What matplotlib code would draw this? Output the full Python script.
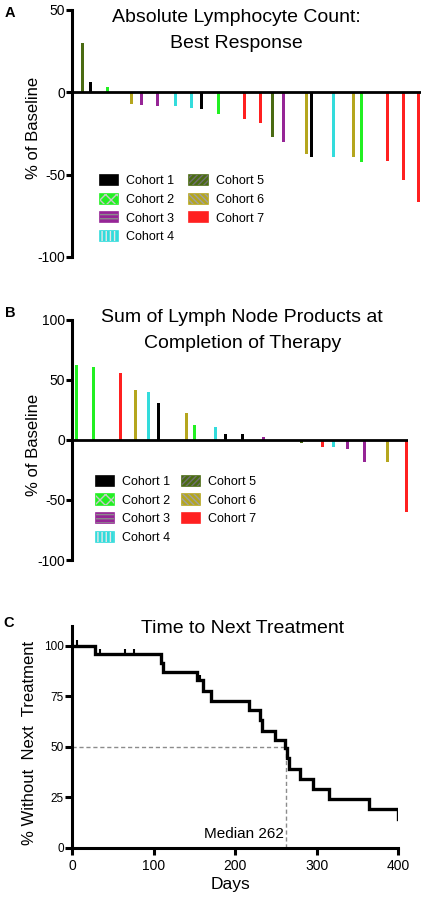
import matplotlib
matplotlib.use("Agg")
import matplotlib.pyplot as plt
from matplotlib.patches import Patch
from matplotlib.legend_handler import HandlerTuple

# ---------------- data ----------------
cohort_names = ["Cohort 1", "Cohort 2", "Cohort 3", "Cohort 4", "Cohort 5", "Cohort 6", "Cohort 7"]
cohort_colors = ["#000000", "#22f022", "#962596", "#33dcdc", "#4a6b12", "#b5a61e", "#ff2020"]
cohort_hatch = [None, "xxx", "----", "||||", "//////", "\\\\\\\\\\\\", None]
cohort_hatch_color = [None, "#c8c8c8", "#8c8c8c", "#e6e6e6", "#707070", "#a0a0a0", None]

# Panel A: ALC best response (% of baseline)
a_pos = [10, 18, 35, 59, 69, 85, 103, 119, 129, 146, 172, 188, 200, 211, 234, 239, 261, 281, 289, 315, 331, 346]
a_val = [30, 6.4, 3.4, -7.3, -7.5, -8.3, -8.3, -9.3, -10.3, -13.3, -16.2, -18.7, -27, -30, -37.3, -39.3,
         -39.3, -39, -42.3, -42, -53.4, -66.8]
a_coh = [5, 1, 2, 6, 3, 3, 4, 4, 1, 2, 7, 7, 5, 3, 6, 1, 4, 6, 2, 7, 7, 7]

# Panel B: SPD at completion of therapy (% of baseline)
b_pos = [4, 21, 48, 63, 76, 86, 114, 122, 143, 153, 170, 191, 229, 250, 261, 275, 292, 315, 334]
b_val = [62, 60.4, 55.7, 41, 39.4, 30.8, 22, 12.6, 10.6, 5.1, 5.1, 1.9, -3, -6, -6.3, -8, -18.4, -18.4, -60]
b_coh = [2, 2, 7, 6, 4, 1, 6, 2, 4, 1, 1, 3, 5, 7, 4, 3, 3, 6, 7]

# Panel C: time to next treatment (Kaplan-Meier steps)
km_t = [0, 28, 109, 111, 153, 160, 170, 217, 231, 233, 249, 261, 264, 266, 279, 296, 315, 364, 400]
km_s = [100, 95.8, 91.5, 87.1, 82.8, 77.7, 72.8, 68.2, 63.2, 57.9, 53.2, 49.2, 44.2, 38.8, 34.0, 29.1, 24.1, 19.2, 14.1]
cens_t = [6, 34, 65, 76, 157]
cens_s = [100, 95.8, 95.8, 95.8, 82.8]
median_days = 262

# ---------------- style ----------------
plt.rcParams["font.family"] = ["Liberation Sans", "DejaVu Sans"]
plt.rcParams["axes.unicode_minus"] = False
W, H = 423, 900
fig = plt.figure(figsize=(W / 100, H / 100), dpi=100)

def rect(x0, x1, ytop, ybot):
    return [x0 / W, 1 - ybot / H, (x1 - x0) / W, (ybot - ytop) / H]

def fx(x):
    return x / W

def fy(y):
    return 1 - y / H

SPW = 2.2
TITLE_FS = 14

def style_left(ax, fs):
    for s in ["top", "right", "bottom"]:
        ax.spines[s].set_visible(False)
    ax.spines["left"].set_linewidth(SPW)
    ax.tick_params(axis="y", length=4.5, width=SPW, pad=0.5, labelsize=fs)
    ax.set_xticks([])

def legend_handles():
    hs = []
    for c, h, hc in zip(cohort_colors, cohort_hatch, cohort_hatch_color):
        base = Patch(facecolor=c, edgecolor=c, linewidth=1.2)
        if h is None:
            hs.append(base)
        else:
            hs.append((base, Patch(facecolor="none", edgecolor=hc, hatch=h, linewidth=0)))
    return hs

def add_legend(x, y, colsp):
    fig.legend(legend_handles(), cohort_names, loc="upper left",
               bbox_to_anchor=(fx(x), fy(y)), bbox_transform=fig.transFigure,
               ncol=2, frameon=False, borderpad=0, borderaxespad=0,
               handlelength=1.45, handleheight=0.9, handletextpad=0.65,
               columnspacing=colsp, labelspacing=0.48, fontsize=9,
               handler_map={tuple: HandlerTuple(ndivide=1)})

# ---------------- Panel A ----------------
axA = fig.add_axes(rect(72, 421, 10, 257))
axA.bar(a_pos, a_val, width=3, color=[cohort_colors[c - 1] for c in a_coh], linewidth=0)
axA.set_xlim(0, 349)
axA.set_ylim(-100, 50)
axA.set_yticks([50, 0, -50, -100])
axA.axhline(0, color="black", lw=2.0)
style_left(axA, 10)
fig.text(fx(236.7), fy(21.7), "Absolute Lymphocyte Count:", ha="center", va="baseline", fontsize=TITLE_FS)
fig.text(fx(236.7), fy(48.3), "Best Response", ha="center", va="baseline", fontsize=TITLE_FS)
fig.text(fx(34), fy(128), "% of Baseline", rotation=90, ha="center", va="center", fontsize=12)
fig.text(fx(10), fy(13), "A", ha="center", va="center", fontsize=10.5, fontweight="bold")
add_legend(100, 175, 1.2)

# ---------------- Panel B ----------------
axB = fig.add_axes(rect(72, 408, 319.5, 560))
axB.bar(b_pos, b_val, width=3, color=[cohort_colors[c - 1] for c in b_coh], linewidth=0)
axB.set_xlim(0, 336)
axB.set_ylim(-100, 100)
axB.set_yticks([100, 50, 0, -50, -100])
axB.axhline(0, color="black", lw=2.0)
style_left(axB, 10)
fig.text(fx(242), fy(321.7), "Sum of Lymph Node Products at", ha="center", va="baseline", fontsize=TITLE_FS)
fig.text(fx(242.5), fy(348), "Completion of Therapy", ha="center", va="baseline", fontsize=TITLE_FS)
fig.text(fx(33), fy(445), "% of Baseline", rotation=90, ha="center", va="center", fontsize=12)
fig.text(fx(10.5), fy(313), "B", ha="center", va="center", fontsize=10.5, fontweight="bold")
add_legend(96, 476, 0.9)

# ---------------- Panel C ----------------
axC = fig.add_axes(rect(72, 398.3, 625.5, 847.7))
axC.plot([0, median_days], [50, 50], ls=(0, (3, 2)), color="#8c8c8c", lw=1.0)
axC.plot([median_days, median_days], [0, 50], ls=(0, (3, 2)), color="#8c8c8c", lw=1.0)
axC.step(km_t, km_s, where="post", color="black", lw=2.4, solid_joinstyle="miter")
axC.plot(cens_t, [s + 1.2 for s in cens_s], ls="none", marker="|", ms=4, mew=1.5, color="black")
axC.set_xlim(0, 400)
axC.set_ylim(0, 110)
axC.set_xticks([0, 100, 200, 300, 400])
axC.set_yticks([0, 25, 50, 75, 100])
for s in ["top", "right"]:
    axC.spines[s].set_visible(False)
for s in ["left", "bottom"]:
    axC.spines[s].set_linewidth(SPW)
axC.tick_params(axis="x", length=5, width=SPW, pad=3, labelsize=10)
axC.tick_params(axis="y", length=5, width=SPW, pad=1, labelsize=8.5)
axC.text(median_days - 2, 7, "Median 262", ha="right", va="center", fontsize=11)
fig.text(fx(242.5), fy(633), "Time to Next Treatment", ha="center", va="baseline", fontsize=TITLE_FS)
fig.text(fx(230.3), fy(885), "Days", ha="center", va="center", fontsize=12.5)
fig.text(fx(30), fy(743), "% Without  Next  Treatment", rotation=90, ha="center", va="center", fontsize=12)
fig.text(fx(9), fy(623), "C", ha="center", va="center", fontsize=10.5, fontweight="bold")

fig.savefig("out.png", dpi=100)
